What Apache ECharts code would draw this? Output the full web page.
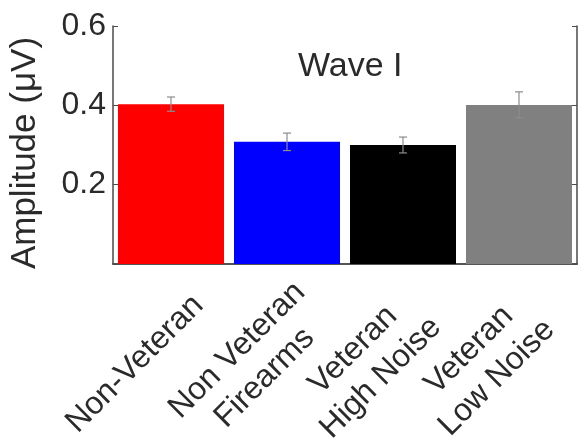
<!DOCTYPE html>
<html>
<head>
<meta charset="utf-8">
<script src="https://cdn.jsdelivr.net/npm/echarts@6/dist/echarts.min.js"></script>
<style>
html,body{margin:0;padding:0;background:#fff;}
#c{width:582px;height:444px;}
</style>
</head>
<body>
<div id="c"></div>
<script>
var categories = ['Non-Veteran', 'Non Veteran\nFirearms', 'Veteran\nHigh Noise', 'Veteran\nLow Noise'];
var amplitudes = [0.403, 0.308, 0.300, 0.401];
var errors = [0.018, 0.022, 0.020, 0.033];
var barColors = ['#ff0000', '#0000ff', '#000000', '#808080'];
var yTicks = [0, 0.2, 0.4, 0.6];

var font = 'Liberation Sans, Arial, sans-serif';
var textColor = '#2a2a2a';
var axisColor = '#4a4a4a';

var chart = echarts.init(document.getElementById('c'), null, {renderer: 'canvas'});

var errData = categories.map(function (c, i) {
  return [i, amplitudes[i] - errors[i], amplitudes[i] + errors[i]];
});

chart.setOption({
  animation: false,
  backgroundColor: '#ffffff',
  title: {
    text: 'Wave I',
    left: 293,
    top: 45,
    textStyle: {fontFamily: font, fontSize: 34, fontWeight: 'normal', color: textColor}
  },
  grid: {left: 113, right: 5, top: 26, bottom: 180, containLabel: false, outerBoundsMode: 'none'},
  xAxis: [{
    type: 'category',
    data: categories,
    axisLine: {show: true, lineStyle: {color: axisColor, width: 1.5}},
    axisTick: {show: false},
    axisLabel: {
      interval: 0,
      rotate: 45,
      margin: 64,
      align: 'center',
      verticalAlign: 'middle',
      padding: [0, 102, 0, 0],
      lineHeight: 39,
      fontFamily: font,
      fontSize: 32,
      color: textColor
    }
  }, {
    type: 'category',
    position: 'top',
    data: categories,
    axisLine: {show: true, lineStyle: {color: axisColor, width: 1.5}},
    axisTick: {show: false},
    axisLabel: {show: false}
  }],
  yAxis: [{
    type: 'value',
    min: 0,
    max: 0.6,
    interval: 0.2,
    name: 'Amplitude (\u03bcV)',
    nameLocation: 'middle',
    nameGap: 70,
    nameTextStyle: {fontFamily: font, fontSize: 35, color: textColor, padding: [0, 16, 0, 0]},
    axisLine: {show: true, lineStyle: {color: axisColor, width: 1.5}},
    axisTick: {show: true, inside: true, length: 5, lineStyle: {color: axisColor}},
    splitLine: {show: false},
    axisLabel: {
      margin: 7,
      fontFamily: font,
      fontSize: 32,
      color: textColor,
      formatter: function (v) {
        var hit = yTicks.filter(function (t) { return Math.abs(t - v) < 1e-9; });
        if (!hit.length || Math.abs(v) < 1e-9) return '';
        return v.toFixed(1);
      }
    }
  }, {
    type: 'value',
    position: 'right',
    min: 0,
    max: 0.6,
    interval: 0.2,
    axisLine: {show: true, lineStyle: {color: axisColor, width: 1.5}},
    axisTick: {show: true, inside: true, length: 5, lineStyle: {color: axisColor}},
    splitLine: {show: false},
    axisLabel: {show: false}
  }],
  series: [{
    type: 'bar',
    data: amplitudes.map(function (v, i) {
      return {value: v, itemStyle: {color: barColors[i]}};
    }),
    barWidth: 106,
    z: 2
  }, {
    type: 'custom',
    data: errData,
    z: 5,
    renderItem: function (params, api) {
      var x = api.value(0);
      var lo = api.coord([x, api.value(1)]);
      var hi = api.coord([x, api.value(2)]);
      var hw = 4;
      var st = {stroke: '#8c8c8c', lineWidth: 1.2};
      return {
        type: 'group',
        children: [
          {type: 'line', shape: {x1: hi[0], y1: hi[1], x2: lo[0], y2: lo[1]}, style: st},
          {type: 'line', shape: {x1: hi[0] - hw, y1: hi[1], x2: hi[0] + hw, y2: hi[1]}, style: st},
          {type: 'line', shape: {x1: lo[0] - hw, y1: lo[1], x2: lo[0] + hw, y2: lo[1]}, style: st}
        ]
      };
    }
  }]
});
</script>
</body>
</html>
